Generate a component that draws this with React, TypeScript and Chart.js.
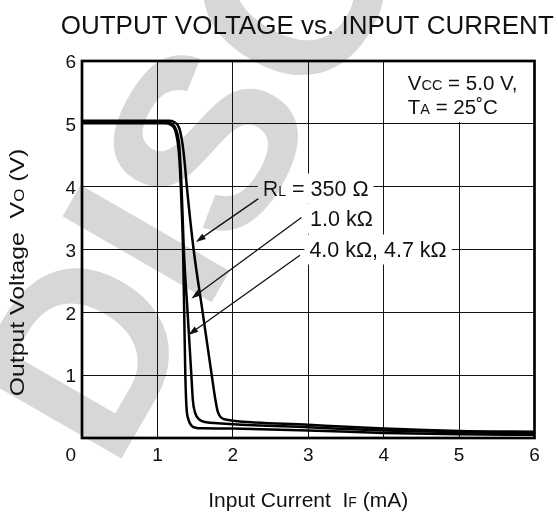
import { useEffect, useRef } from "react";
import { Chart, registerables } from "chart.js";

Chart.register(...registerables);

const FONT = '"Liberation Sans", Arial, Helvetica, sans-serif';
const INK = "#111";

// Axis ranges / ticks
const X_MIN = 0;
const X_MAX = 6;
const Y_MIN = 0;
const Y_MAX = 6;

// Curve data: input current IF (mA) -> output voltage VO (V)
const RL350_IF = [0, 1.15, 1.22, 1.29, 1.33, 1.36, 1.39, 1.48, 1.6, 1.72, 1.77, 1.8, 1.85, 1.95, 2.0, 3, 4, 5, 6];
const RL350_VO = [5.05, 5.05, 5.03, 4.93, 4.7, 4.4, 4.0, 3.0, 2.0, 1.0, 0.6, 0.42, 0.32, 0.285, 0.275, 0.21, 0.15, 0.11, 0.1];

const RL1K_IF = [0, 1.12, 1.19, 1.25, 1.29, 1.31, 1.32, 1.35, 1.4, 1.45, 1.47, 1.5, 1.56, 1.65, 1.8, 2.0, 3, 4, 5, 6];
const RL1K_VO = [5.03, 5.03, 5.0, 4.9, 4.65, 4.26, 4.0, 3.0, 2.0, 1.0, 0.6, 0.4, 0.29, 0.25, 0.235, 0.22, 0.17, 0.12, 0.09, 0.075];

const RL4K_IF = [0, 1.1, 1.17, 1.24, 1.28, 1.3, 1.31, 1.34, 1.355, 1.37, 1.385, 1.41, 1.45, 1.52, 1.6, 2.0, 3, 4, 5, 6];
const RL4K_VO = [5.01, 5.01, 4.99, 4.88, 4.6, 4.26, 4.0, 3.0, 2.0, 1.0, 0.5, 0.3, 0.2, 0.16, 0.155, 0.15, 0.12, 0.08, 0.06, 0.05];

// Annotation texts (runs of [text, fontSize])
const RL350_LABEL: [string, number][] = [["R", 21.5], ["L", 14], [" = 350 Ω", 21.5]];
const RL1K_LABEL: [string, number][] = [["1.0 kΩ", 21.5]];
const RL4K_LABEL: [string, number][] = [["4.0 kΩ, 4.7 kΩ", 21.5]];
const VCC_LABEL: [string, number][] = [["V", 20.5], ["CC", 14.5], [" = 5.0 V,", 20.5]];
const TA_LABEL: [string, number][] = [["T", 20.5], ["A", 14.5], [" = 25˚C", 20.5]];
const TITLE = "OUTPUT VOLTAGE vs. INPUT CURRENT";
const X_TITLE: [string, number][] = [["Input Current  I", 21], ["F", 14], [" (mA)", 21]];
const Y_TITLE: [string, number][] = [["Output Voltage  V", 20.5], ["O", 14], [" (V)", 20.5]];
const WATERMARK = "DISCONTINUED";

// label anchors in data units: [left IF, center VO]
const RL350_AT = [2.397, 3.97];
const RL1K_AT = [3.024, 3.49];
const RL4K_AT = [3.015, 3.0];
const COND_AT = [4.32, 5.54, 5.15];
const COND_BOX_LEFT = 4.15;
const COND_BOX_BOTTOM = 5.03;

// arrows in data units: [fromX, fromY, toX, toY]
const ARROWS = [
  [2.34, 3.81, 1.51, 3.12],
  [2.91, 3.51, 1.45, 2.22],
  [2.89, 2.91, 1.41, 1.64],
];

function runsWidth(ctx: CanvasRenderingContext2D, runs: [string, number][]) {
  let w = 0;
  for (const [t, s] of runs) {
    ctx.font = `${s}px ${FONT}`;
    w += ctx.measureText(t).width;
  }
  return w;
}

function drawRuns(ctx: CanvasRenderingContext2D, runs: [string, number][], x: number, y: number) {
  ctx.textAlign = "left";
  ctx.textBaseline = "alphabetic";
  let cx = x;
  for (const [t, s] of runs) {
    ctx.font = `${s}px ${FONT}`;
    ctx.fillText(t, cx, y);
    cx += ctx.measureText(t).width;
  }
}

const overlay = {
  id: "overlay",
  beforeDatasetsDraw(chart: any) {
    const { ctx, chartArea: a, scales } = chart;
    const xs = scales.x;
    const ys = scales.y;
    ctx.save();
    ctx.fillStyle = "#fff";
    const bl = xs.getPixelForValue(COND_BOX_LEFT);
    const bb = ys.getPixelForValue(COND_BOX_BOTTOM);
    ctx.fillRect(bl, a.top, a.right - bl, bb - a.top);
    const labels: [[string, number][], number[]][] = [
      [RL350_LABEL, RL350_AT],
      [RL1K_LABEL, RL1K_AT],
      [RL4K_LABEL, RL4K_AT],
    ];
    for (const [runs, at] of labels) {
      const w = runsWidth(ctx, runs);
      const lx = xs.getPixelForValue(at[0]);
      const cy = ys.getPixelForValue(at[1]);
      ctx.fillRect(lx - 5, cy - 15, w + 10, 30);
    }
    ctx.restore();
  },
  afterDatasetsDraw(chart: any) {
    const { ctx, chartArea: a, scales } = chart;
    const xs = scales.x;
    const ys = scales.y;
    ctx.save();
    ctx.fillStyle = INK;
    ctx.strokeStyle = INK;

    // curve labels
    const labels: [[string, number][], number[]][] = [
      [RL350_LABEL, RL350_AT],
      [RL1K_LABEL, RL1K_AT],
      [RL4K_LABEL, RL4K_AT],
    ];
    for (const [runs, at] of labels) {
      drawRuns(ctx, runs, xs.getPixelForValue(at[0]), ys.getPixelForValue(at[1]) + 7.5);
    }
    // conditions
    drawRuns(ctx, VCC_LABEL, xs.getPixelForValue(COND_AT[0]), ys.getPixelForValue(COND_AT[1]));
    drawRuns(ctx, TA_LABEL, xs.getPixelForValue(COND_AT[0]), ys.getPixelForValue(COND_AT[2]));

    // arrows
    ctx.lineWidth = 1.3;
    for (const [fx, fy, tx, ty] of ARROWS) {
      const x1 = xs.getPixelForValue(fx);
      const y1 = ys.getPixelForValue(fy);
      const x2 = xs.getPixelForValue(tx);
      const y2 = ys.getPixelForValue(ty);
      const ang = Math.atan2(y2 - y1, x2 - x1);
      const hl = 10;
      const hw = 3.2;
      ctx.beginPath();
      ctx.moveTo(x1, y1);
      ctx.lineTo(x2 - Math.cos(ang) * hl * 0.8, y2 - Math.sin(ang) * hl * 0.8);
      ctx.stroke();
      ctx.beginPath();
      ctx.moveTo(x2, y2);
      ctx.lineTo(x2 - Math.cos(ang) * hl - Math.sin(ang) * hw, y2 - Math.sin(ang) * hl + Math.cos(ang) * hw);
      ctx.lineTo(x2 - Math.cos(ang) * hl + Math.sin(ang) * hw, y2 - Math.sin(ang) * hl - Math.cos(ang) * hw);
      ctx.closePath();
      ctx.fill();
    }

    // frame
    ctx.lineWidth = 2.7;
    ctx.strokeStyle = "#000";
    ctx.strokeRect(a.left, a.top, a.right - a.left, a.bottom - a.top);

    // shared origin label
    ctx.font = `19px ${FONT}`;
    ctx.textAlign = "right";
    ctx.textBaseline = "middle";
    ctx.fillStyle = INK;
    ctx.fillText("0", a.left - 6, a.bottom + 17.5);

    // title
    const cx = (a.left + a.right) / 2;
    ctx.font = `26px ${FONT}`;
    ctx.textAlign = "center";
    ctx.textBaseline = "alphabetic";
    ctx.fillText(TITLE, cx - 1, a.top - 27);

    // x title
    const xw = runsWidth(ctx, X_TITLE);
    drawRuns(ctx, X_TITLE, cx - xw / 2, a.bottom + 69);

    // y title (rotated, slightly stretched along its length)
    const yw = runsWidth(ctx, Y_TITLE);
    const stretch = 1.21;
    ctx.save();
    ctx.translate(24, (a.top + a.bottom) / 2 + 23);
    ctx.rotate(-Math.PI / 2);
    ctx.scale(stretch, 1);
    drawRuns(ctx, Y_TITLE, -yw / 2, 0);
    ctx.restore();

    ctx.restore();
  },
  afterDraw(chart: any) {
    const { ctx } = chart;
    ctx.save();
    ctx.globalCompositeOperation = "darken";
    ctx.fillStyle = "#d7d7d7";
    ctx.translate(113, 473);
    ctx.rotate(-Math.PI / 3);
    ctx.font = `bold 250px ${FONT}`;
    ctx.textAlign = "left";
    ctx.textBaseline = "alphabetic";
    ctx.fillText(WATERMARK, 0, 0);
    ctx.restore();
  },
};

function toPoints(xs: number[], ys: number[]) {
  return xs.map((v, i) => ({ x: v, y: ys[i] }));
}

export default function App() {
  const ref = useRef<HTMLCanvasElement | null>(null);

  useEffect(() => {
    if (!ref.current) return;
    const mk = (label: string, xs: number[], ys: number[]) => ({
      label,
      data: toPoints(xs, ys),
      borderColor: "#000",
      borderWidth: 2.5,
      pointRadius: 0,
      fill: false,
      cubicInterpolationMode: "monotone" as const,
    });
    const chart = new Chart(ref.current, {
      type: "line",
      data: {
        datasets: [
          mk("RL = 350 Ω", RL350_IF, RL350_VO),
          mk("1.0 kΩ", RL1K_IF, RL1K_VO),
          mk("4.0 kΩ, 4.7 kΩ", RL4K_IF, RL4K_VO),
        ],
      },
      options: {
        animation: false,
        responsive: false,
        events: [],
        layout: { padding: { left: 0, top: 61, right: 23.5, bottom: 0 } },
        plugins: { legend: { display: false }, tooltip: { enabled: false }, title: { display: false } },
        scales: {
          x: {
            type: "linear",
            min: X_MIN,
            max: X_MAX,
            afterFit: (s: any) => {
              s.height = 75;
            },
            ticks: {
              stepSize: 1,
              autoSkip: false,
              maxRotation: 0,
              padding: 6,
              color: INK,
              font: { family: FONT, size: 19 },
              callback: (v: any) => (v === 0 ? "" : String(v)),
            },
            grid: { color: INK, lineWidth: 1, drawTicks: false },
            border: { display: false },
          },
          y: {
            type: "linear",
            min: Y_MIN,
            max: Y_MAX,
            afterFit: (s: any) => {
              s.width = 82;
            },
            ticks: {
              stepSize: 1,
              autoSkip: false,
              padding: 6,
              labelOffset: 2,
              color: INK,
              font: { family: FONT, size: 19 },
              callback: (v: any) => (v === 0 ? "" : String(v)),
            },
            grid: { color: INK, lineWidth: 1, drawTicks: false },
            border: { display: false },
          },
        },
      },
      plugins: [overlay],
    });
    return () => chart.destroy();
  }, []);

  return (
    <div style={{ position: "absolute", left: 0, top: 0, width: 558, height: 513, background: "#fff" }}>
      <canvas ref={ref} width={558} height={513} style={{ display: "block" }} />
    </div>
  );
}
